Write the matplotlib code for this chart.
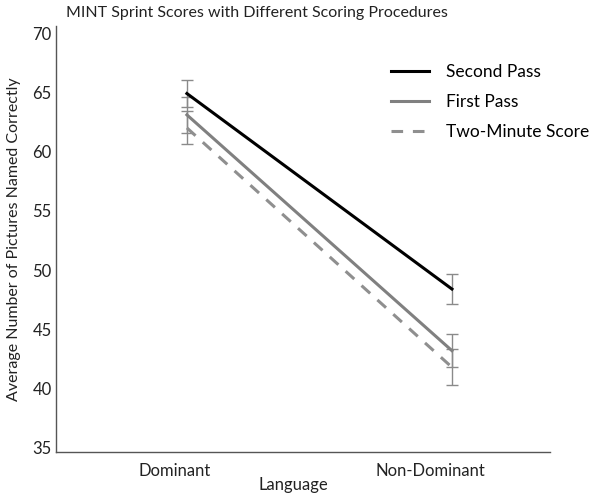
import numpy as np
import matplotlib
matplotlib.use("Agg")
import matplotlib.pyplot as plt
import matplotlib.transforms as mtransforms

plt.rcParams['font.family'] = ['Lato', 'DejaVu Sans']

languages = ["Dominant", "Non-Dominant"]
second_pass = [64.9, 48.4]
second_err = [1.1, 1.25]
first_pass = [63.1, 43.2]
first_err = [1.5, 1.4]
two_minute = [62.0, 41.8]
two_err = [1.4, 1.5]
yticks = [35, 40, 45, 50, 55, 60, 65, 70]

fig = plt.figure(figsize=(6, 4.95), dpi=100)
ax = fig.add_axes([0.0933, 0.0869, 0.8234, 0.8606])

x = np.arange(len(languages))
ecol = "#8a8a8a"

ax.errorbar(x, two_minute, yerr=two_err, fmt='none', ecolor=ecol, elinewidth=1, capsize=4, capthick=1)
ax.errorbar(x, first_pass, yerr=first_err, fmt='none', ecolor=ecol, elinewidth=1, capsize=4, capthick=1)
ax.errorbar(x, second_pass, yerr=second_err, fmt='none', ecolor=ecol, elinewidth=1, capsize=4, capthick=1)

ax.plot(x, second_pass, color="black", linewidth=2.2, label="Second Pass")
ax.plot(x, first_pass, color="#808080", linewidth=2.2, label="First Pass")
ax.plot(x, two_minute, color="#8f8f8f", linewidth=2.2, linestyle=(0, (3.8, 3.2)), label="Two-Minute Score")

ax.set_xlim(-0.494, 1.37)
ax.set_ylim(34.65, 70.6)
ax.set_yticks(yticks)
ax.set_xticks(x)
ax.set_xticklabels(languages)
ax.tick_params(axis='both', length=0, labelsize=12, colors="#222222")
ax.tick_params(axis='y', pad=3)
ax.tick_params(axis='x', pad=8)

# tick labels sit a bit left of the data points in the original
for lab, dx in zip(ax.get_xticklabels(), [-12, -22]):
    lab.set_transform(lab.get_transform() + mtransforms.ScaledTranslation(dx / 100, 0, fig.dpi_scale_trans))

for s in ["top", "right"]:
    ax.spines[s].set_visible(False)
for s in ["left", "bottom"]:
    ax.spines[s].set_color("#555555")
    ax.spines[s].set_linewidth(1)

ax.set_xlabel("Language", fontsize=12, color="#222222")
ax.xaxis.set_label_coords(0.48, -0.058)
ax.set_ylabel("Average Number of Pictures Named Correctly", fontsize=11.5, color="#222222")
ax.yaxis.set_label_coords(-0.07, 0.5)

fig.text(0.428, 0.973, "MINT Sprint Scores with Different Scoring Procedures",
         ha="center", va="center", fontsize=11.5, color="#222222")

ax.legend(loc="upper left", bbox_to_anchor=(0.625, 0.902), bbox_transform=fig.transFigure,
          frameon=False, fontsize=12.5, handlelength=2.2, handletextpad=1.0, labelspacing=0.8)

fig.savefig("out.png", dpi=100)
